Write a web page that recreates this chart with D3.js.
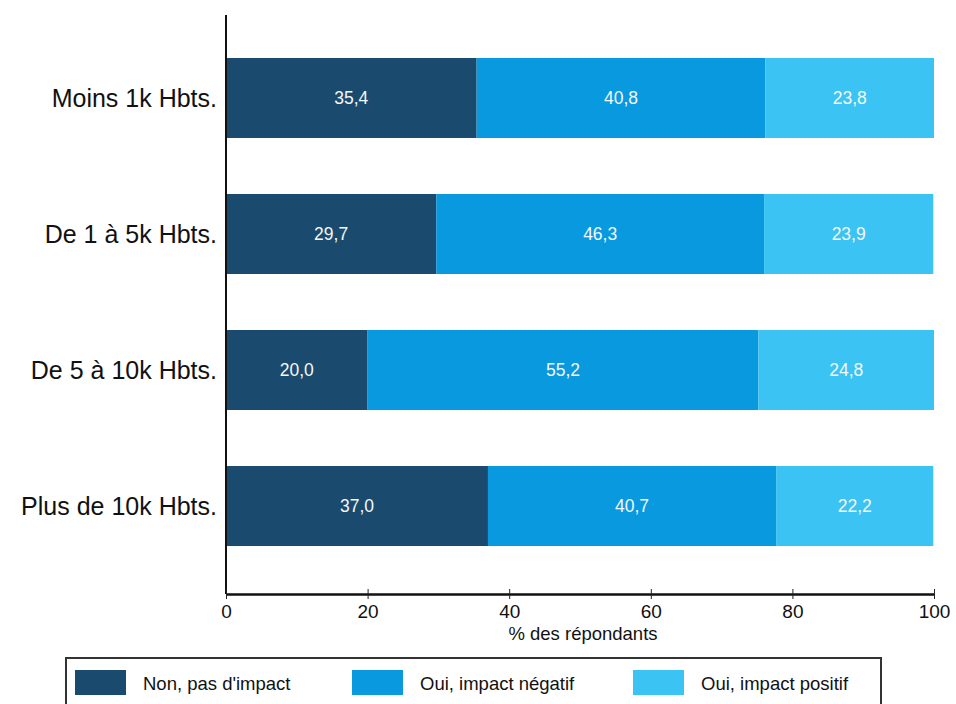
<!DOCTYPE html>
<html>
<head>
<meta charset="utf-8">
<script src="https://cdn.jsdelivr.net/npm/d3@7"></script>
<style>
  html, body { margin: 0; padding: 0; background: #fff; }
  svg { display: block; font-family: "Liberation Sans", Arial, sans-serif; }
</style>
</head>
<body>
<svg id="chart" width="956" height="704"></svg>
<script>
// Répartition des réponses par taille de commune (% des répondants)
const categories = ["Moins 1k Hbts.", "De 1 à 5k Hbts.", "De 5 à 10k Hbts.", "Plus de 10k Hbts."];
const seriesNames = ["Non, pas d'impact", "Oui, impact négatif", "Oui, impact positif"];
const nonImpact = [35.4, 29.7, 20.0, 37.0];
const impactNegatif = [40.8, 46.3, 55.2, 40.7];
const impactPositif = [23.8, 23.9, 24.8, 22.2];
const xTicks = [0, 20, 40, 60, 80, 100];
const axisTitle = "% des répondants";
const colors = ["#1b4a6f", "#0899df", "#3ac3f3"];

const svg = d3.select("#chart");

const x = d3.scaleLinear().domain([0, 100]).range([226, 934]);
const y = d3.scaleBand().domain(categories).range([15, 589])
  .paddingInner(0.4118).paddingOuter(0.316);
const axisY = 594;

// stacked rows
const rows = categories.map((c, i) => ({
  cat: c,
  "0": nonImpact[i], "1": impactNegatif[i], "2": impactPositif[i]
}));
const stack = d3.stack().keys(["0", "1", "2"]);
const layers = stack(rows);

const fmt = v => v.toFixed(1).replace(".", ",");

layers.forEach((layer, k) => {
  const g = svg.append("g");
  g.selectAll("rect").data(layer).join("rect")
    .attr("x", d => x(d[0]))
    .attr("y", d => y(d.data.cat))
    .attr("width", d => x(d[1]) - x(d[0]))
    .attr("height", y.bandwidth())
    .attr("fill", colors[k]);
  g.selectAll("text").data(layer).join("text")
    .attr("x", d => (x(d[0]) + x(d[1])) / 2)
    .attr("y", d => y(d.data.cat) + y.bandwidth() / 2)
    .attr("text-anchor", "middle")
    .attr("dominant-baseline", "central")
    .attr("fill", "#f4f8fb")
    .attr("font-size", 17.5)
    .text(d => fmt(d[1] - d[0]));
});

// category labels
svg.append("g").selectAll("text").data(categories).join("text")
  .attr("x", 217)
  .attr("y", d => y(d) + y.bandwidth() / 2)
  .attr("text-anchor", "end")
  .attr("dominant-baseline", "central")
  .attr("font-size", 25)
  .attr("fill", "#111")
  .text(d => d);

// vertical axis line
svg.append("line")
  .attr("x1", x(0)).attr("x2", x(0))
  .attr("y1", 15).attr("y2", axisY)
  .attr("stroke", "#111").attr("stroke-width", 2);

// bottom axis
const xAxis = d3.axisBottom(x).tickValues(xTicks).tickSize(5).tickSizeOuter(0)
  .tickFormat(d3.format("d"));
const gx = svg.append("g").attr("transform", `translate(0,${axisY})`).call(xAxis);
gx.select(".domain").attr("stroke", "#111").attr("stroke-width", 2.5);
gx.selectAll(".tick line").attr("y1", -5).attr("y2", 5).attr("stroke", "#222");
gx.selectAll(".tick text")
  .attr("y", 11)
  .attr("font-size", 19)
  .attr("font-family", "'Liberation Sans', Arial, sans-serif")
  .attr("fill", "#111");

svg.append("text")
  .attr("x", (x(0) + x(100)) / 2 + 3)
  .attr("y", 640)
  .attr("text-anchor", "middle")
  .attr("font-size", 18.5)
  .attr("fill", "#111")
  .text(axisTitle);

// legend
const legend = svg.append("g");
legend.append("rect")
  .attr("x", 66).attr("y", 658).attr("width", 815).attr("height", 70)
  .attr("fill", "none").attr("stroke", "#333").attr("stroke-width", 2);
const legendX = [75, 352, 633];
const items = legend.selectAll("g.item").data(seriesNames).join("g")
  .attr("class", "item")
  .attr("transform", (d, i) => `translate(${legendX[i]},670)`);
items.append("rect")
  .attr("width", 51).attr("height", 25)
  .attr("fill", (d, i) => colors[i]);
items.append("text")
  .attr("x", 68).attr("y", 13)
  .attr("dominant-baseline", "central")
  .attr("font-size", 18.5)
  .attr("fill", "#111")
  .text(d => d);
</script>
</body>
</html>
